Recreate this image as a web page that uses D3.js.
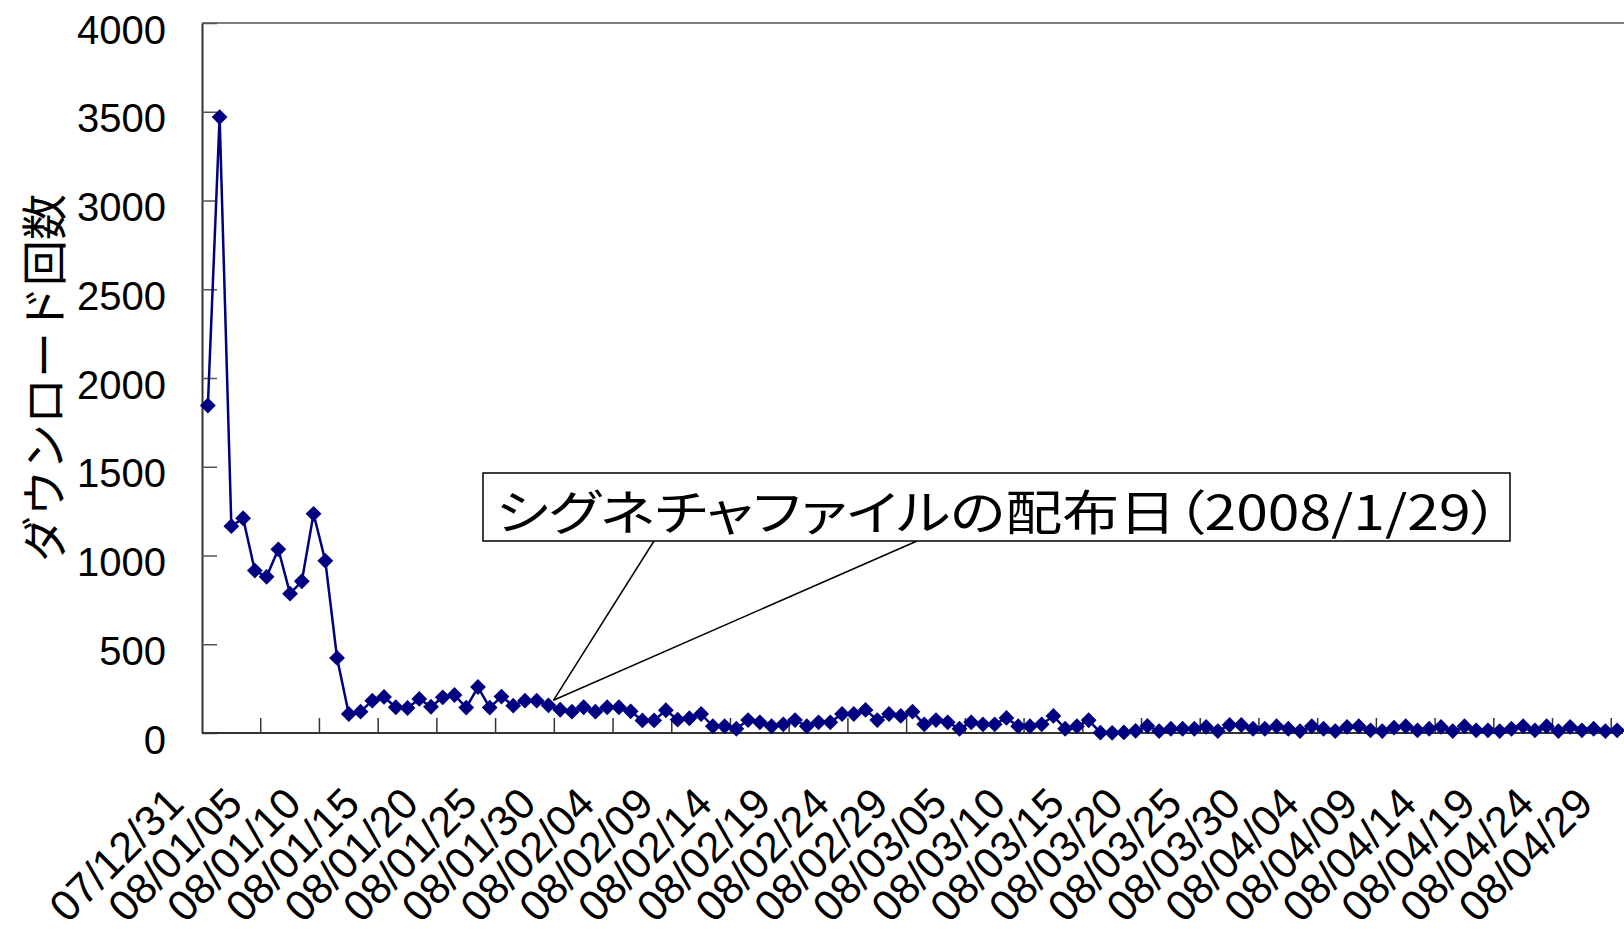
<!DOCTYPE html>
<html>
<head>
<meta charset="utf-8">
<script src="https://cdn.jsdelivr.net/npm/d3@7"></script>
<style>
  html, body { margin: 0; padding: 0; background: #fff; }
  svg { display: block; }
</style>
</head>
<body>
<svg id="chart" width="1624" height="929"></svg>
<script>
// Daily categories, 2007/12/31 .. 2008/04/29
const categories = [
  "07/12/31",
  "08/01/01","08/01/02","08/01/03","08/01/04","08/01/05","08/01/06","08/01/07","08/01/08","08/01/09","08/01/10",
  "08/01/11","08/01/12","08/01/13","08/01/14","08/01/15","08/01/16","08/01/17","08/01/18","08/01/19","08/01/20",
  "08/01/21","08/01/22","08/01/23","08/01/24","08/01/25","08/01/26","08/01/27","08/01/28","08/01/29","08/01/30","08/01/31",
  "08/02/01","08/02/02","08/02/03","08/02/04","08/02/05","08/02/06","08/02/07","08/02/08","08/02/09","08/02/10",
  "08/02/11","08/02/12","08/02/13","08/02/14","08/02/15","08/02/16","08/02/17","08/02/18","08/02/19","08/02/20",
  "08/02/21","08/02/22","08/02/23","08/02/24","08/02/25","08/02/26","08/02/27","08/02/28","08/02/29",
  "08/03/01","08/03/02","08/03/03","08/03/04","08/03/05","08/03/06","08/03/07","08/03/08","08/03/09","08/03/10",
  "08/03/11","08/03/12","08/03/13","08/03/14","08/03/15","08/03/16","08/03/17","08/03/18","08/03/19","08/03/20",
  "08/03/21","08/03/22","08/03/23","08/03/24","08/03/25","08/03/26","08/03/27","08/03/28","08/03/29","08/03/30","08/03/31",
  "08/04/01","08/04/02","08/04/03","08/04/04","08/04/05","08/04/06","08/04/07","08/04/08","08/04/09","08/04/10",
  "08/04/11","08/04/12","08/04/13","08/04/14","08/04/15","08/04/16","08/04/17","08/04/18","08/04/19","08/04/20",
  "08/04/21","08/04/22","08/04/23","08/04/24","08/04/25","08/04/26","08/04/27","08/04/28","08/04/29"
];

// Downloads per day
const downloads = [
  1845,
  3470,1165,1210,915,880,1035,785,855,1235,970,
  423,107,120,182,203,145,141,192,148,201,
  214,143,259,143,205,154,182,182,156,131,120,
  145,120,145,145,122,71,71,128,75,83,
  107,38,38,24,73,60,38,49,73,38,
  60,60,107,107,130,73,107,96,120,
  49,73,60,24,60,49,49,85,38,38,
  49,96,24,38,72,2,1,3,12,40,
  11,24,24,24,34,11,45,45,24,24,38,
  24,11,38,24,11,34,38,15,11,30,
  38,15,24,34,11,38,15,15,11,24,
  38,15,38,11,34,15,24,11,15
];

// Labelled categories on the date axis (every fifth day)
const tickLabels = [
  "07/12/31","08/01/05","08/01/10","08/01/15","08/01/20","08/01/25","08/01/30",
  "08/02/04","08/02/09","08/02/14","08/02/19","08/02/24","08/02/29",
  "08/03/05","08/03/10","08/03/15","08/03/20","08/03/25","08/03/30",
  "08/04/04","08/04/09","08/04/14","08/04/19","08/04/24","08/04/29"
];

const yTicks = [0, 500, 1000, 1500, 2000, 2500, 3000, 3500, 4000];
const yTitle = "ダウンロード回数";
const calloutText = "シグネチャファイルの配布日（2008/1/29）";
const calloutDate = "08/01/29";

const svg = d3.select("#chart");
const plot = { left: 202, top: 23, right: 1623, bottom: 733 };
const navy = "#000080";
const latin = "'Liberation Sans', Arial, sans-serif";
const cjk = "'Noto Sans CJK JP', sans-serif";

const x = d3.scaleBand().domain(categories).range([plot.left, plot.right]).padding(0);
const cx = d => x(d) + x.bandwidth() / 2;
const y = d3.scaleLinear().domain([0, 4000]).range([plot.bottom, plot.top]);

// plot-area top edge
svg.append("line")
  .attr("x1", plot.left).attr("x2", 1624)
  .attr("y1", plot.top).attr("y2", plot.top)
  .attr("stroke", "#555").attr("stroke-width", 1.3);

// value axis: inside ticks, labels to the left
const yAxis = svg.append("g")
  .attr("transform", `translate(${plot.left},0)`)
  .call(d3.axisLeft(y).tickValues(yTicks).tickFormat(d3.format("d"))
    .tickSizeInner(-15).tickSizeOuter(0).tickPadding(36));
yAxis.select(".domain").attr("stroke", "#333").attr("stroke-width", 2);
yAxis.selectAll(".tick line").attr("stroke", "#555").attr("stroke-width", 1.5);
yAxis.selectAll(".tick text")
  .attr("font-family", latin).attr("font-size", 40).attr("fill", "#000")
  .attr("dy", "0.5em");
yAxis.attr("font-family", null).attr("font-size", null);

// date axis: inside ticks on category boundaries every five days
const tickIdx = tickLabels.map(d => categories.indexOf(d));
const xb = svg.append("g").attr("transform", `translate(0,${plot.bottom})`);
xb.selectAll("line.tick")
  .data(tickIdx.filter(i => i > 0))
  .join("line")
  .attr("class", "tick")
  .attr("x1", i => x(categories[i])).attr("x2", i => x(categories[i]))
  .attr("y1", 0).attr("y2", -15)
  .attr("stroke", "#333").attr("stroke-width", 1.5);
xb.append("line")
  .attr("x1", plot.left).attr("x2", plot.right)
  .attr("y1", 0).attr("y2", 0)
  .attr("stroke", "#333").attr("stroke-width", 2);

svg.append("g")
  .selectAll("text")
  .data(tickLabels)
  .join("text")
  .attr("transform", d => `translate(${cx(d) - 22},806) rotate(-45)`)
  .attr("text-anchor", "end")
  .attr("font-family", latin).attr("font-size", 43).attr("fill", "#000")
  .text(d => d);

// axis title
svg.append("text")
  .attr("transform", "translate(41,378) rotate(-90)")
  .attr("text-anchor", "middle")
  .attr("dominant-baseline", "central")
  .attr("font-family", cjk).attr("font-size", 46).attr("fill", "#000")
  .text(yTitle);

// series line and diamond markers
const line = d3.line()
  .x((d, i) => cx(categories[i]))
  .y(d => y(d));
svg.append("path")
  .datum(downloads)
  .attr("d", line)
  .attr("fill", "none")
  .attr("stroke", navy).attr("stroke-width", 2.5)
  .attr("stroke-linejoin", "round");

const diamond = d3.symbol().type(d3.symbolSquare).size(125);
svg.append("g")
  .selectAll("path")
  .data(downloads)
  .join("path")
  .attr("d", diamond)
  .attr("transform", (d, i) => `translate(${cx(categories[i])},${y(d)}) rotate(45)`)
  .attr("fill", navy);

// callout pointing at the distribution date
const ci = categories.indexOf(calloutDate);
const tip = [cx(calloutDate) + 5, y(downloads[ci]) - 5];
const box = { x: 483, y: 473, w: 1027, h: 68 };
const callout = svg.append("g");
[654, 917].forEach(sx => {
  callout.append("line")
    .attr("x1", sx).attr("y1", box.y + box.h)
    .attr("x2", tip[0]).attr("y2", tip[1])
    .attr("stroke", "#000").attr("stroke-width", 1.5);
});
callout.append("rect")
  .attr("x", box.x).attr("y", box.y).attr("width", box.w).attr("height", box.h)
  .attr("fill", "#fff").attr("stroke", "#000").attr("stroke-width", 1.5);
callout.append("text")
  .attr("x", 496).attr("y", box.y + box.h / 2 + 2)
  .attr("dominant-baseline", "central")
  .attr("font-family", cjk).attr("font-size", 48).attr("fill", "#000")
  .style("font-feature-settings", "'palt'")
  .attr("textLength", 1003).attr("lengthAdjust", "spacingAndGlyphs")
  .text(calloutText);
</script>
</body>
</html>
